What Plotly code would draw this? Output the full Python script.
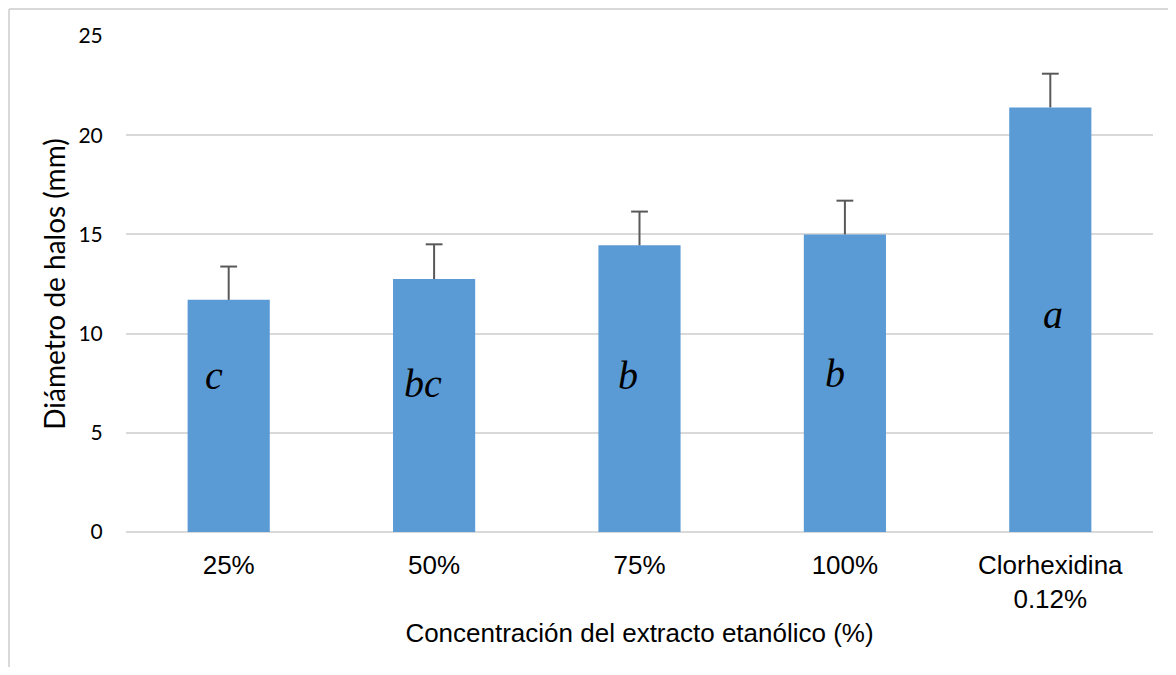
import plotly.graph_objects as go

categories = ["25%", "50%", "75%", "100%", "Clorhexidina<br>0.12%"]
diametro = [11.7, 12.75, 14.45, 15.0, 21.4]
error_plus = [1.68, 1.75, 1.7, 1.7, 1.7]
letras = ["c", "bc", "b", "b", "a"]
y_ticks = [0, 5, 10, 15, 20, 25]

# letter label placement (layout constants)
letra_y = [7.89, 7.48, 7.89, 7.99, 10.96]
letra_dx = [-15, -11, -12, -10, 3]

ERR_COLOR = "#595959"

fig = go.Figure()
fig.add_trace(go.Bar(
    x=categories, y=diametro,
    marker=dict(color="#5b9bd5", line=dict(width=0)),
    error_y=dict(type="data", array=error_plus, arrayminus=[0] * len(error_plus),
                 symmetric=False, color=ERR_COLOR, thickness=2, width=0),
    width=0.4,
))
# caps of the error bars (top only)
fig.add_trace(go.Scatter(
    x=categories, y=[v + e for v, e in zip(diametro, error_plus)],
    mode="markers",
    marker=dict(symbol="line-ew", size=12, line=dict(color=ERR_COLOR, width=2)),
    hoverinfo="skip",
))

for c, yv, t, dx in zip(categories, letra_y, letras, letra_dx):
    fig.add_annotation(x=c, y=yv, text=f"<i>{t}</i>", showarrow=False, xshift=dx,
                       font=dict(family="Liberation Serif", size=40, color="black"),
                       xanchor="center", yanchor="middle")

fig.update_layout(
    width=1160, height=659,
    margin=dict(l=118, r=15, t=28, b=135),
    paper_bgcolor="white", plot_bgcolor="white",
    showlegend=False,
    xaxis=dict(
        tickfont=dict(family="Liberation Sans", size=26, color="black"),
        ticks="outside", ticklen=10, tickcolor="rgba(0,0,0,0)",
        showline=False, showgrid=False,
        title=dict(text="Concentración del extracto etanólico (%)",
                   font=dict(family="Liberation Sans", size=26, color="black"),
                   standoff=10),
    ),
    yaxis=dict(
        range=[0, 25], tickvals=y_ticks,
        tickfont=dict(family="Lato", size=21, color="black"),
        showgrid=True, gridcolor="#d9d9d9", gridwidth=2,
        zeroline=True, zerolinecolor="#d9d9d9", zerolinewidth=2,
        showline=False,
        ticks="outside", ticklen=18, tickcolor="rgba(0,0,0,0)",
        title=dict(text="Diámetro de halos (mm)",
                   font=dict(family="Lato", size=28, color="black"),
                   standoff=4),
    ),
    shapes=[
        dict(type="line", xref="paper", yref="paper", x0=-0.1139, x1=1.0146,
             y0=1.0544, y1=1.0544, line=dict(color="#d9d9d9", width=2)),
        dict(type="line", xref="paper", yref="paper", x0=-0.1139, x1=-0.1139,
             y0=1.0544, y1=-0.272, line=dict(color="#d9d9d9", width=2)),
    ],
)

fig.write_html("out.html")
